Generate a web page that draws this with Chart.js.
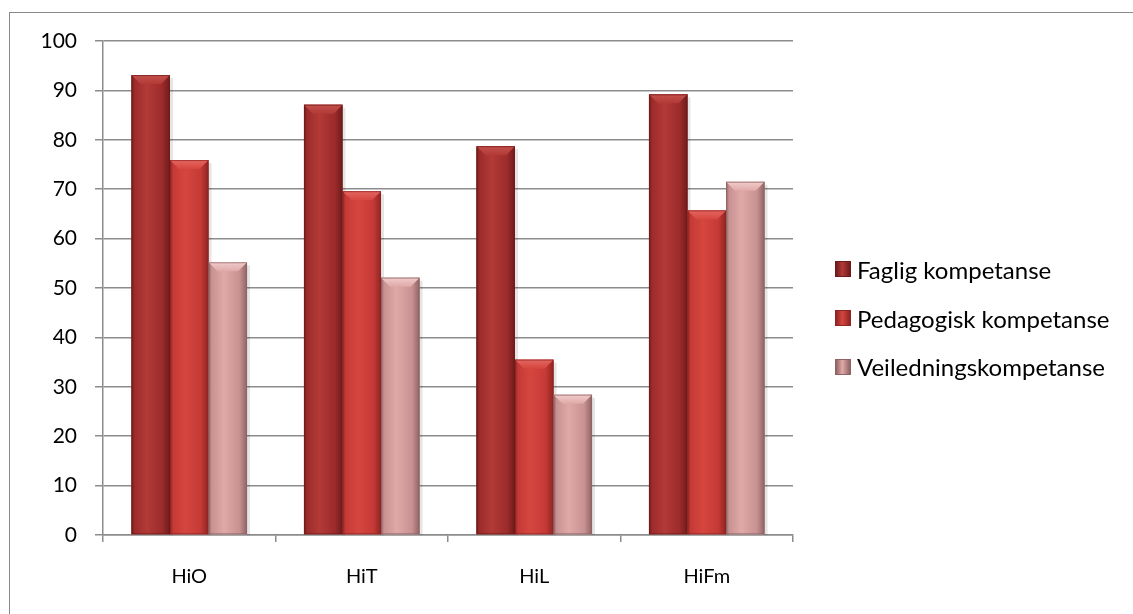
<!DOCTYPE html>
<html>
<head>
<meta charset="utf-8">
<script src="https://cdn.jsdelivr.net/npm/chart.js@4.4.1/dist/chart.umd.min.js"></script>
<style>
  html, body { margin: 0; padding: 0; background: #fff; overflow: hidden; }
  #wrap { position: relative; width: 1133px; height: 614px; overflow: hidden; }
  #frame { position: absolute; left: 9px; top: 12px; width: 1300px; height: 800px; border: 1.5px solid #8a8a8a; box-sizing: border-box; }
  canvas { position: absolute; left: 0; top: 0; }
  #legend { position: absolute; left: 835px; top: 245px; font-family: Lato, sans-serif; font-size: 24px; color: #000; }
  #legend .row { display: flex; align-items: center; height: 48.7px; white-space: nowrap; }
  #legend .box { width: 16px; height: 16px; margin-right: 6px; box-sizing: border-box; }
</style>
</head>
<body>
<div id="wrap">
  <div id="frame"></div>
  <canvas id="kompetanseChart" width="1133" height="614"></canvas>
  <div id="legend"></div>
</div>
<script>
// data
const schools = ['HiO', 'HiT', 'HiL', 'HiFm'];
const seriesNames = ['Faglig kompetanse', 'Pedagogisk kompetanse', 'Veiledningskompetanse'];
const fagligValues = [93.1, 87.1, 78.7, 89.2];
const pedagogiskValues = [75.9, 69.6, 35.5, 65.7];
const veiledningValues = [55.2, 52.1, 28.4, 71.5];
const yTickValues = [0, 10, 20, 30, 40, 50, 60, 70, 80, 90, 100];

// bar shading, one per series
const shades = [
  { edge: '#6f1b1b', body: '#9c2b2b', light: '#b23a37', cap: '#c4504c' },
  { edge: '#8e2523', body: '#c53936', light: '#d5463f', cap: '#e46660' },
  { edge: '#8f6363', body: '#c99292', light: '#dfa9a8', cap: '#f0cccc' }
];

const gridGray = '#8c8c8c';

const bevelBars = {
  id: 'bevelBars',
  afterDatasetsDraw(chart) {
    const ctx = chart.ctx;
    chart.data.datasets.forEach((ds, i) => {
      const meta = chart.getDatasetMeta(i);
      const s = shades[i];
      meta.data.forEach(bar => {
        const left = bar.x - bar.width / 2;
        const right = bar.x + bar.width / 2;
        const top = bar.y;
        const bottom = bar.base;
        const w = right - left;
        const h = bottom - top;
        ctx.save();
        // soft shadow on the right
        ctx.fillStyle = 'rgba(0,0,0,0.10)';
        ctx.fillRect(right, top + 3, 3, h - 2);
        // body
        const g = ctx.createLinearGradient(left, 0, right, 0);
        g.addColorStop(0, s.edge);
        g.addColorStop(0.08, s.body);
        g.addColorStop(0.4, s.light);
        g.addColorStop(0.8, s.body);
        g.addColorStop(1, s.edge);
        ctx.fillStyle = g;
        ctx.fillRect(left, top, w, h);
        // top bevel
        const b = Math.min(9, h / 2);
        const cg = ctx.createLinearGradient(0, top, 0, top + b);
        cg.addColorStop(0, s.cap);
        cg.addColorStop(1, s.light);
        ctx.fillStyle = cg;
        ctx.beginPath();
        ctx.moveTo(left, top);
        ctx.lineTo(right, top);
        ctx.lineTo(right - b, top + b);
        ctx.lineTo(left + b, top + b);
        ctx.closePath();
        ctx.fill();
        ctx.strokeStyle = s.edge;
        ctx.globalAlpha = 0.7;
        ctx.lineWidth = 1;
        ctx.strokeRect(left + 0.5, top + 0.5, w - 1, h - 1);
        ctx.restore();
      });
    });
  }
};

const ctx = document.getElementById('kompetanseChart').getContext('2d');
const chart = new Chart(ctx, {
  type: 'bar',
  data: {
    labels: schools,
    datasets: [
      { label: seriesNames[0], data: fagligValues, backgroundColor: shades[0].body },
      { label: seriesNames[1], data: pedagogiskValues, backgroundColor: shades[1].body },
      { label: seriesNames[2], data: veiledningValues, backgroundColor: shades[2].body }
    ]
  },
  options: {
    responsive: false,
    animation: false,
    devicePixelRatio: 1,
    datasets: { bar: { barPercentage: 1, categoryPercentage: 0.67 } },
    layout: { padding: { left: 0, top: 41, right: 340, bottom: 19 } },
    plugins: {
      tooltip: { enabled: false },
      legend: { display: false }
    },
    scales: {
      x: {
        grid: { display: true, drawOnChartArea: false, drawTicks: true, tickLength: 7, color: gridGray, lineWidth: 1.5, offset: true },
        border: { display: true, color: gridGray, width: 1.5 },
        ticks: { color: '#000', font: { family: 'Lato', size: 20 }, padding: 23 },
        afterFit: s => { s.height = 60; }
      },
      y: {
        min: 0,
        max: 100,
        afterBuildTicks: s => { s.ticks = yTickValues.map(v => ({ value: v })); },
        grid: { color: gridGray, lineWidth: 1.5, tickLength: 8 },
        border: { color: gridGray, width: 1.5 },
        ticks: { color: '#000', font: { family: 'Lato', size: 21 }, padding: 18 },
        afterFit: s => { s.width = 103; }
      }
    }
  },
  plugins: [bevelBars]
});

// legend built from the chart's datasets
const legendEl = document.getElementById('legend');
chart.data.datasets.forEach((ds, i) => {
  const s = shades[i];
  const row = document.createElement('div');
  row.className = 'row';
  const box = document.createElement('span');
  box.className = 'box';
  box.style.background = 'linear-gradient(90deg, ' + s.edge + ', ' + s.light + ' 45%, ' + s.edge + ')';
  box.style.border = '1px solid ' + s.edge;
  const label = document.createElement('span');
  label.textContent = ds.label;
  row.appendChild(box);
  row.appendChild(label);
  legendEl.appendChild(row);
});
</script>
</body>
</html>
